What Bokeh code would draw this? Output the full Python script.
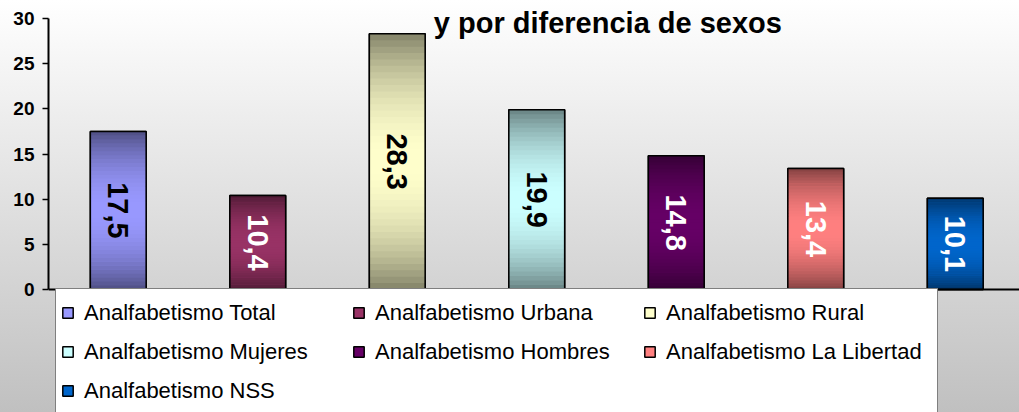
import numpy as np
from bokeh.plotting import figure
from bokeh.models import Range1d, FixedTicker, Legend, LegendItem, Label, ColumnDataSource
from bokeh.core.properties import value
from bokeh.embed import file_html
from bokeh.resources import INLINE

# ---- data ----
categories = ["Analfabetismo Total", "Analfabetismo Urbana", "Analfabetismo Rural",
              "Analfabetismo Mujeres", "Analfabetismo Hombres", "Analfabetismo La Libertad",
              "Analfabetismo NSS"]
values = [17.5, 10.4, 28.3, 19.9, 14.8, 13.4, 10.1]
value_labels = ["17,5", "10,4", "28,3", "19,9", "14,8", "13,4", "10,1"]
y_ticks = [0, 5, 10, 15, 20, 25, 30]
title_text = "y por diferencia de sexos"

# ---- styles ----
mid_colors = ["#9999FF", "#993366", "#FFFFCC", "#CCFFFF", "#660066", "#FF8080", "#0066CC"]
label_colors = ["black", "white", "black", "black", "white", "white", "white"]
FONT = "Liberation Sans"
BAR_W = 0.4
N_SLICES = 40

W, H = 1019, 412
LEFT = 48
PX_PER_UNIT = 271 / 30.0
ZERO_Y = 289
y_lo = -(H - ZERO_Y) / PX_PER_UNIT
y_hi = ZERO_Y / PX_PER_UNIT
x_hi = -0.5 + (W - LEFT) / 139.5

p = figure(width=W, height=H, output_backend="svg", toolbar_location=None,
           x_range=Range1d(-0.5, x_hi), y_range=Range1d(y_lo, y_hi),
           min_border_left=LEFT, min_border_right=0, min_border_top=0, min_border_bottom=0,
           border_fill_alpha=0, background_fill_alpha=0, outline_line_color=None,
           styles={"background": "linear-gradient(#ffffff, #c0c0c0)"})
p.xgrid.visible = False
p.ygrid.visible = False

xs = list(range(len(categories)))

def hex_to_rgb(h):
    h = h.lstrip("#")
    return np.array([int(h[i:i + 2], 16) for i in (0, 2, 4)], dtype=float)

# base bars (solid, used for legend)
renderers = []
for i, (cat, v, col) in enumerate(zip(categories, values, mid_colors)):
    r = p.vbar(x=[xs[i]], top=[v], bottom=0, width=BAR_W, fill_color=col,
               line_color="black", line_width=1.5)
    renderers.append(r)

# gradient slices
sx, sb, st, sc = [], [], [], []
for i, (v, col) in enumerate(zip(values, mid_colors)):
    rgb = hex_to_rgb(col)
    for k in range(N_SLICES):
        t = (k + 0.5) / N_SLICES
        f = 0.5 + 0.5 * np.sin(np.pi * t) ** 0.8
        c = np.clip(rgb * f, 0, 255).astype(int)
        sx.append(xs[i])
        sb.append(v * k / N_SLICES)
        st.append(min(v, v * (k + 1.15) / N_SLICES))
        sc.append("#%02x%02x%02x" % tuple(c))
p.vbar(x="x", bottom="b", top="t", width=BAR_W, fill_color="c", line_color=None,
       source=ColumnDataSource(dict(x=sx, b=sb, t=st, c=sc)))

# outlines on top
p.vbar(x=xs, top=values, bottom=0, width=BAR_W, fill_alpha=0, line_color="black", line_width=1.5)

# value labels
p.text(x=xs, y=[v / 2 for v in values], text=value_labels, angle=-np.pi / 2,
       text_align="center", text_baseline="middle", text_color=label_colors,
       text_font=value(FONT), text_font_style="bold", text_font_size="29px")

# axes
p.yaxis.ticker = FixedTicker(ticks=y_ticks)
p.yaxis.bounds = (0, 30)
p.yaxis.major_label_text_font = FONT
p.yaxis.major_label_text_font_style = "bold"
p.yaxis.major_label_text_font_size = "19px"
p.yaxis.major_label_text_color = "black"
p.yaxis.major_tick_in = 0
p.yaxis.major_tick_out = 6
p.yaxis.major_label_standoff = 8
p.yaxis.minor_tick_line_color = None
p.yaxis.axis_line_width = 2
p.yaxis.axis_line_color = "black"
p.yaxis.major_tick_line_color = "black"
p.yaxis.major_tick_line_width = 1.5

x_boundaries = [i + 0.5 for i in xs[:-1]]
p.xaxis.ticker = FixedTicker(ticks=x_boundaries)
p.xaxis.major_label_overrides = {b: "" for b in x_boundaries}
p.xaxis.fixed_location = 0
p.xaxis.major_label_standoff = 0
p.xaxis.major_tick_in = 0
p.xaxis.major_tick_out = 4
p.xaxis.minor_tick_line_color = None
p.xaxis.axis_line_width = 2
p.xaxis.axis_line_color = "black"
p.xaxis.major_tick_line_color = "black"

# title text
p.add_layout(Label(x=3.51, y=29.5, text=title_text, text_align="center",
                   text_baseline="alphabetic", text_font=FONT, text_font_style="bold",
                   text_font_size="29px", text_color="black"))

# legend
items = [LegendItem(label=c, renderers=[r]) for c, r in zip(categories, renderers)]
legend = Legend(items=items, location=(7, -3), orientation="horizontal", ncols=3,
                glyph_width=13, glyph_height=13, label_standoff=10, label_width=266,
                label_height=37, spacing=2, padding=5, margin=0,
                label_text_font=FONT, label_text_font_size="22px", label_text_color="black",
                border_line_color="black", border_line_width=1.5,
                background_fill_color="white", background_fill_alpha=1)
p.add_layout(legend, "center")

open("out.html", "w").write(file_html(p, INLINE))
